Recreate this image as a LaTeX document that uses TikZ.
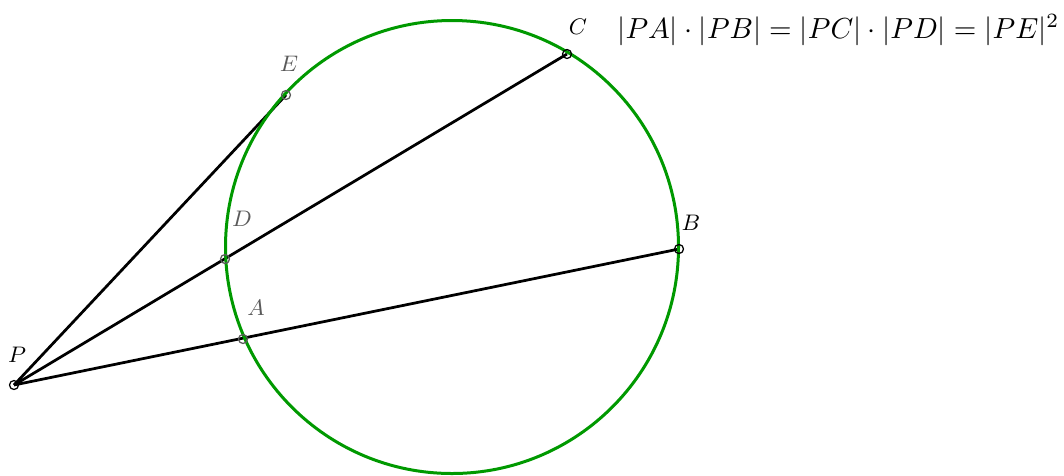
\documentclass[tikz,border=0pt]{standalone}
\usepackage{amsmath}
\begin{document}
\begin{tikzpicture}[x=0.4pt,y=-0.4pt]
\definecolor{cgreen}{RGB}{0,153,0}
\definecolor{cgray}{RGB}{90,90,90}
\tikzset{
  seg/.style={line width=1.1pt,black},
  circ/.style={line width=1.2pt,cgreen},
  ptmark/.style={circle,draw,inner sep=0pt,minimum size=3.6pt,line width=0.5pt},
  lbl/.style={font=\small}
}
\useasboundingbox (0,0) rectangle (1064,475);
\coordinate (O) at (452,247);
\coordinate (P) at (14,385);
\coordinate (E) at (286,95);
\coordinate (C) at (567,54);
\coordinate (D) at (225,259);
\coordinate (B) at (679,249);
\coordinate (A) at (243,339);
\draw[seg] (P) -- (E);
\draw[seg] (P) -- (C);
\draw[seg] (P) -- (B);
\draw[circ] (O) circle[radius=226.5];
\node[ptmark,black] (mP) at (P) {};
\node[ptmark,black] (mC) at (C) {};
\node[ptmark,black] (mB) at (B) {};
\node[ptmark,cgray] (mE) at (E) {};
\node[ptmark,cgray] (mD) at (D) {};
\node[ptmark,cgray] (mA) at (A) {};
\node[lbl] (lP) at (17,355) {$P$};
\node[lbl,text=cgray] (lE) at (289,64) {$E$};
\node[lbl] (lC) at (578,27) {$C$};
\node[lbl,text=cgray] (lD) at (242,219) {$D$};
\node[lbl,text=cgray] (lA) at (256,308) {$A$};
\node[lbl] (lB) at (691,223) {$B$};
\node[anchor=east,inner sep=0pt,scale=1.16] (F) at (1060,30) {$|PA|\cdot|PB|=|PC|\cdot|PD|=|PE|^2$};
\end{tikzpicture}
\end{document}
